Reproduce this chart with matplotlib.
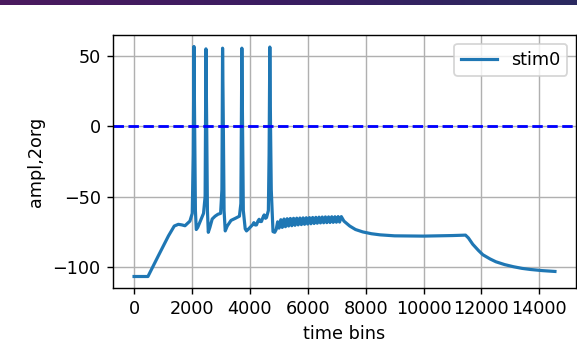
import matplotlib
matplotlib.use('Agg')
import matplotlib.pyplot as plt
from matplotlib.colors import LinearSegmentedColormap
import numpy as np

# ---- data ----
# rest, ramp and spiking phase (time bins, amplitude)
early_t = [0, 480, 840, 1190, 1390, 1530, 1650, 1760, 1930, 2010,
           2045, 2069, 2095, 2120, 2150, 2200, 2300, 2400,
           2455, 2483, 2510, 2535, 2565, 2620, 2700, 2800, 2900, 2990,
           3035, 3058, 3085, 3110, 3150, 3220, 3350, 3500, 3640, 3690,
           3724, 3750, 3775, 3840, 3885, 3960, 4057, 4100, 4138, 4190, 4230,
           4280, 4322, 4360, 4402, 4450, 4494, 4540, 4575, 4640, 4665,
           4690, 4715, 4740, 4800, 4860]
early_v = [-107, -107, -92.2, -78, -71, -69.8, -70.2, -70.8, -67.5, -62,
           -20, 57, 0, -60, -73.5, -72, -67, -62,
           -50, 55.3, 0, -60, -75.5, -72, -66, -64, -62.6, -62,
           -45, 55.8, 0, -60, -74.5, -71, -67, -65.5, -64, -55,
           55.8, 0, -60, -73, -74.5, -73, -70.9, -70, -68.6, -70.3, -70.2,
           -67.5, -66.2, -67.8, -67.8, -65, -63.1, -65.5, -65, -60, -20,
           56.6, 0, -45, -75, -75.5]

# subthreshold oscillation phase (alternating trough / peak)
osc_t = [4910, 4960, 5010, 5070, 5120, 5180, 5230, 5290, 5340, 5400,
         5450, 5510, 5560, 5620, 5670, 5730, 5780, 5840, 5890, 5950,
         6000, 6060, 6110, 6170, 6220, 6280, 6330, 6390, 6440, 6500,
         6550, 6610, 6660, 6720, 6770, 6830, 6880, 6940, 6990, 7050,
         7100, 7160]
osc_v = [-73.5, -68, -72.5, -66.5, -72, -66, -71.5, -65.8, -71, -65.6,
         -70.8, -65.5, -70.5, -65.4, -70.2, -65.3, -70, -65.2, -69.8, -65.1,
         -69.6, -65, -69.4, -64.9, -69.2, -64.8, -69, -64.7, -68.8, -64.6,
         -68.7, -64.5, -68.6, -64.5, -68.5, -64.4, -68.4, -64.4, -68.3, -64.3,
         -68.2, -64.3]

# relaxation after stimulus
tail_t = [7250, 7450, 7650, 7900, 8200, 8500, 9000, 10000, 11000, 11450,
          11550, 11700, 11900, 12050, 12300, 12500, 12800, 13100, 13400,
          13700, 14100, 14540]
tail_v = [-67.5, -71, -73.5, -75.2, -76.5, -77.3, -78, -78.2, -77.8, -77.5,
          -79.5, -84, -88.5, -91.5, -94.5, -96.5, -98.5, -100, -101.2,
          -102, -102.8, -103.4]

threshold = 0
series_label = "stim0"

# ---- figure ----
DPI = 127
fig = plt.figure(figsize=(577 / DPI, 360 / DPI), dpi=DPI)

# screenshot header bar
bar = fig.add_axes([0, 1 - 5 / 360, 1, 5 / 360])
cmap = LinearSegmentedColormap.from_list('hdr', ['#4b1a5e', '#3a1d62', '#2b2a60'])
bar.imshow(np.linspace(0, 1, 256)[None, :], aspect='auto', cmap=cmap)
bar.axis('off')

ax = fig.add_axes([113 / 577, 72 / 360, 463 / 577, 253 / 360])
t = np.array(early_t + osc_t + tail_t)
v = np.array(early_v + osc_v + tail_v)
ax.plot(t, v, color='#1f77b4', lw=1.8, label=series_label)
ax.axhline(threshold, color='b', ls='--', lw=1.6)
ax.grid(True)
ax.legend(loc='upper right')
ax.set_xlabel('time bins')
ax.set_ylabel('ampl,2org')

fig.savefig('out.png', dpi=DPI)
